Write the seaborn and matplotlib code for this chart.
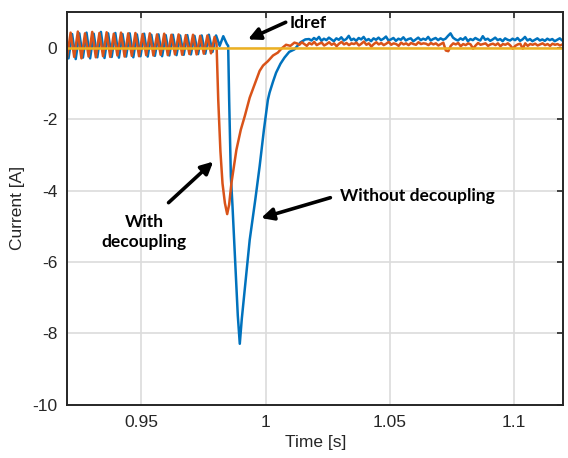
import numpy as np
import pandas as pd
import matplotlib
matplotlib.use("Agg")
import matplotlib.pyplot as plt
import seaborn as sns

# ---------------- data ----------------
# steady-state ripple before the fault (peaks / troughs, half-period spacing)
HALF_PERIOD = 0.00145
with_pre_t0 = 0.9200
with_pre = [-0.28, 0.42, -0.26, 0.45, -0.30, 0.40, -0.25, 0.44, -0.27, 0.41,
            -0.24, 0.43, -0.26, 0.39, -0.22, 0.42, -0.25, 0.40, -0.23, 0.41,
            -0.24, 0.38, -0.21, 0.40, -0.22, 0.37, -0.20, 0.39, -0.21, 0.36,
            -0.19, 0.37, -0.20, 0.35, -0.18, 0.36, -0.19, 0.33, -0.17, 0.34,
            -0.16, 0.30]
without_pre_t0 = 0.9206
without_pre = [-0.30, 0.38, -0.32, 0.40, -0.28, 0.42, -0.30, 0.39, -0.27, 0.44,
               -0.29, 0.40, -0.26, 0.41, -0.28, 0.38, -0.25, 0.40, -0.27, 0.37,
               -0.24, 0.39, -0.25, 0.36, -0.23, 0.37, -0.24, 0.35, -0.22, 0.36,
               -0.21, 0.34, -0.20, 0.35, -0.19, 0.33, -0.18, 0.34, -0.17, 0.36,
               -0.12, 0.34, 0.05, 0.32, 0.10]

# transient (time [s], current [A])
with_tr_t = [0.98024, 0.98092, 0.98180, 0.98264, 0.98360, 0.98452, 0.98530,
             0.98624, 0.98824, 0.99000, 0.99160, 0.99360, 0.99600, 0.99760,
             0.99900, 1.00092, 1.00300, 1.00492, 1.00650, 1.00824, 1.01000,
             1.01160]
with_tr_i = [0.10, -1.46, -2.90, -3.80, -4.35, -4.66, -4.40,
             -3.79, -2.86, -2.30, -1.92, -1.40, -0.95, -0.65,
             -0.50, -0.38, -0.22, -0.14, -0.02, 0.08, 0.05,
             0.14]
without_tr_t = [0.98492, 0.98532, 0.98600, 0.98664, 0.98784, 0.98880, 0.98960,
                0.99040, 0.99120, 0.99240, 0.99360, 0.99584, 0.99760, 0.99932,
                1.00092, 1.00160, 1.00300, 1.00424, 1.00600, 1.00760, 1.00950,
                1.01160, 1.01410, 1.01600]
without_tr_i = [0.05, -1.46, -3.60, -4.40, -6.10, -7.50, -8.29,
                -7.60, -7.05, -6.20, -5.38, -4.26, -3.32, -2.30,
                -1.46, -1.26, -0.95, -0.70, -0.45, -0.28, -0.12,
                -0.05, 0.15, 0.23]

# settled, noisy current after the transient (1 ms spacing)
POST_STEP = 0.001
with_post_t0 = 1.0126
with_post = [0.12, 0.08, 0.15, 0.10, 0.05, 0.13, 0.09, 0.16, 0.07, 0.11, 0.14, 0.06,
             0.10, 0.15, 0.08, 0.12, 0.04, 0.11, 0.16, 0.09, 0.13, 0.07, 0.12, 0.10,
             0.14, 0.06, 0.11, 0.17, 0.08, 0.12, 0.03, 0.10, 0.15, 0.09, 0.13, 0.07,
             0.11, 0.16, 0.08, 0.12, 0.10, 0.05, 0.14, 0.09, 0.12, 0.07, 0.13, 0.10,
             0.08, 0.15, 0.10, 0.12, 0.11, 0.07, 0.13, 0.09, 0.12, 0.06, 0.10, 0.14,
             -0.08, -0.10, 0.05, 0.12, 0.09, 0.13, 0.04, 0.10, 0.07, 0.12, 0.09, -0.03,
             0.06, 0.13, 0.08, 0.10, 0.12, 0.05, 0.09, 0.11, 0.07, 0.12, 0.04, 0.10,
             0.08, 0.12, 0.06, -0.03, 0.05, 0.09, 0.11, -0.03, 0.12, 0.05, 0.10, 0.08,
             0.11, 0.06, 0.09, 0.12, 0.07, 0.10, 0.05, 0.11, 0.08, 0.10, 0.06, 0.09]
without_post_t0 = 1.0175
without_post = [0.24, 0.20, 0.27, 0.22, 0.30, 0.19, 0.25, 0.21, 0.28, 0.23, 0.18, 0.26,
                0.22, 0.29, 0.20, 0.24, 0.33, 0.21, 0.25, 0.19, 0.27, 0.23, 0.30, 0.20,
                0.24, 0.18, 0.26, 0.22, 0.28, 0.21, 0.25, 0.31, 0.20, 0.23, 0.27, 0.19,
                0.25, 0.22, 0.29, 0.20, 0.24, 0.26, 0.18, 0.23, 0.28, 0.21, 0.25, 0.22,
                0.30, 0.20, 0.24, 0.27, 0.21, 0.26, 0.22, 0.25, 0.33, 0.40, 0.28, 0.23,
                0.20, 0.26, 0.22, 0.29, 0.18, 0.24, 0.21, 0.27, 0.23, 0.20, 0.32, 0.22,
                0.25, 0.19, 0.23, 0.28, 0.21, 0.24, 0.18, 0.26, 0.22, 0.20, 0.25, 0.21,
                0.27, 0.19, 0.23, 0.30, 0.20, 0.24, 0.18, 0.22, 0.26, 0.20, 0.23, 0.19,
                0.25, 0.21, 0.24, 0.18, 0.22, 0.26, 0.20]

idref_t = [0.92, 1.12]
idref_i = [0.0, 0.0]

x_ticks = [0.95, 1.00, 1.05, 1.10]
x_tick_labels = ["0.95", "1", "1.05", "1.1"]
y_ticks = [0, -2, -4, -6, -8, -10]

# ---------------- assemble long-form table ----------------
def seg(t0, step, vals):
    return list(t0 + step * np.arange(len(vals))), list(vals)

wt1, wi1 = seg(with_pre_t0, HALF_PERIOD, with_pre)
wt3, wi3 = seg(with_post_t0, POST_STEP, with_post)
nt1, ni1 = seg(without_pre_t0, HALF_PERIOD, without_pre)
nt3, ni3 = seg(without_post_t0, POST_STEP, without_post)

frames = [
    pd.DataFrame({"t": nt1 + without_tr_t + nt3, "i": ni1 + without_tr_i + ni3,
                  "series": "without"}),
    pd.DataFrame({"t": wt1 + with_tr_t + wt3, "i": wi1 + with_tr_i + wi3,
                  "series": "with"}),
    pd.DataFrame({"t": idref_t, "i": idref_i, "series": "idref"}),
]
df = pd.concat(frames, ignore_index=True)

palette = {"without": "#0072BD", "with": "#D95319", "idref": "#EDB120"}

# ---------------- figure ----------------
sns.set_theme(style="white")
plt.rcParams["font.family"] = ["Liberation Sans", "DejaVu Sans"]

fig = plt.figure(figsize=(5.68, 4.58), dpi=100)
ax = fig.add_axes([0.118, 0.116, 0.874, 0.858])

sns.lineplot(data=df, x="t", y="i", hue="series", palette=palette,
             hue_order=["without", "with", "idref"], estimator=None,
             sort=False, legend=False, linewidth=1.8, ax=ax)

ax.set_xlim(0.92, 1.12)
ax.set_ylim(-10, 1)
ax.set_xticks(x_ticks)
ax.set_xticklabels(x_tick_labels)
ax.set_yticks(y_ticks)
ax.set_yticklabels([str(v) for v in y_ticks])

ax.grid(True, color="#dcdcdc", linewidth=1.2)
ax.set_axisbelow(True)
for s in ax.spines.values():
    s.set_color("#262626")
    s.set_linewidth(1.4)
ax.tick_params(direction="in", length=4, width=1.2, top=True, right=True,
               colors="#262626", labelsize=12.5, pad=7)
ax.set_xlabel("Time [s]", fontsize=12.5, color="#262626", labelpad=4)
ax.set_ylabel("Current [A]", fontsize=12.5, color="#262626", labelpad=5)

# ---------------- annotations ----------------
afont = dict(fontfamily=["Lato", "DejaVu Sans"], fontweight="bold",
             fontsize=12.5, color="black")
arrow = dict(arrowstyle="-|>", color="black", lw=2.6, mutation_scale=18,
             shrinkA=0, shrinkB=0)

ax.annotate("", xy=(0.9929, 0.23), xytext=(1.0081, 0.71), arrowprops=arrow)
ax.text(1.0097, 0.70, "Idref", ha="left", va="center", **afont)

ax.annotate("", xy=(0.9982, -4.77), xytext=(1.0261, -4.20), arrowprops=arrow)
ax.text(1.0301, -4.14, "Without decoupling", ha="left", va="center", **afont)

ax.annotate("", xy=(0.9789, -3.19), xytext=(0.9609, -4.34), arrowprops=arrow)
ax.text(0.9510, -5.16, "With\ndecoupling", ha="center", va="center",
        linespacing=1.25, **afont)

fig.savefig("out.png", dpi=100)
